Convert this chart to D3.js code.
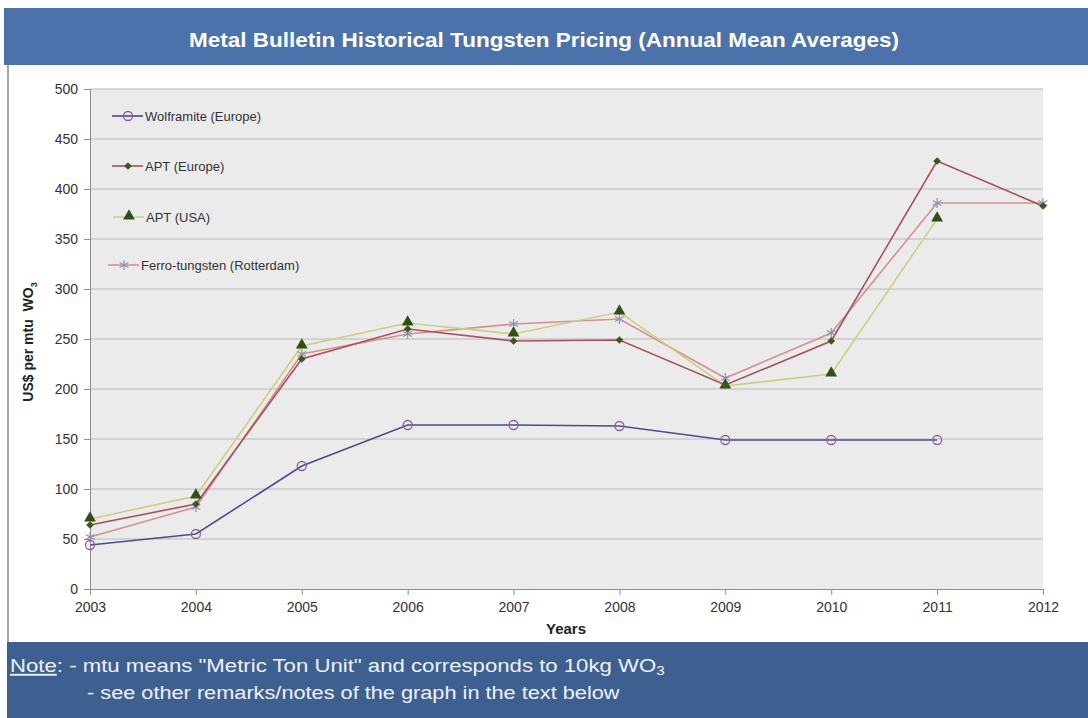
<!DOCTYPE html>
<html><head><meta charset="utf-8">
<script src="https://cdn.jsdelivr.net/npm/d3@7"></script>
<style>body{margin:0;background:#fff;}svg{display:block;font-family:"Liberation Sans",Arial,sans-serif;}</style>
</head><body>
<svg id="c" width="1088" height="718"></svg>
<script>
const years = [2003,2004,2005,2006,2007,2008,2009,2010,2011,2012];
const yTicks = [0,50,100,150,200,250,300,350,400,450,500];
const wolframite = [44,55,123,164,164,163,149,149,149,null];
const aptEurope = [64,85,230,260,248,249,204,248,428,383];
const aptUSA = [70,93,243,266,255,277,203,215,370,null];
const ferro = [52,82,235,255,265,270,211,256,386,386];
const seriesNames = ["Wolframite (Europe)","APT (Europe)","APT (USA)","Ferro-tungsten (Rotterdam)"];

const svg = d3.select("#c");
const x = d3.scaleLinear().domain([2003,2012]).range([90,1043]);
const y = d3.scaleLinear().domain([0,500]).range([589,89]);

// frame line on left
svg.append("line").attr("x1",8).attr("x2",8).attr("y1",60).attr("y2",645).attr("stroke","#8a8a8a").attr("stroke-width",1.5);
// title bar
svg.append("rect").attr("x",4).attr("y",8).attr("width",1084).attr("height",57).attr("fill","#4b72ab");
svg.append("text").attr("x",544).attr("y",47).attr("text-anchor","middle").attr("fill","#fff")
  .attr("font-weight","bold").attr("font-size",21).attr("textLength",710).attr("lengthAdjust","spacingAndGlyphs")
  .text("Metal Bulletin Historical Tungsten Pricing (Annual Mean Averages)");

// plot bg
svg.append("rect").attr("x",x(2003)).attr("y",y(500)).attr("width",x(2012)-x(2003)).attr("height",y(0)-y(500)).attr("fill","#ebebeb");
// grid
svg.append("g").selectAll("line").data(yTicks.filter(d=>d>0)).join("line")
  .attr("x1",x(2003)).attr("x2",x(2012)).attr("y1",d=>y(d)).attr("y2",d=>y(d)).attr("stroke","#b9b9b9").attr("stroke-width",1);

// axes
const yAxis = d3.axisLeft(y).tickValues(yTicks).tickSize(6).tickPadding(6);
const gy = svg.append("g").attr("transform",`translate(${x(2003)},0)`).call(yAxis);
const xAxis = d3.axisBottom(x).tickValues(years).tickFormat(d3.format("d")).tickSize(6).tickPadding(4);
const gx = svg.append("g").attr("transform",`translate(0,${y(0)})`).call(xAxis);
[gx,gy].forEach(g=>{
  g.select(".domain").attr("stroke","#8c8c8c");
  g.selectAll(".tick line").attr("stroke","#8c8c8c");
  g.selectAll(".tick text").attr("fill","#333").attr("font-size",14).attr("font-family","Liberation Sans, Arial, sans-serif");
});
gx.selectAll(".tick text").attr("dy","0.9em");

// axis titles
const yt = svg.append("text").attr("transform","translate(33,342) rotate(-90)").attr("text-anchor","middle")
  .attr("font-weight","bold").attr("font-size",14).attr("fill","#222");
yt.append("tspan").text("US$ per mtu\u00a0\u00a0WO");
yt.append("tspan").attr("font-size",9).attr("dy",4).text("3");
svg.append("text").attr("x",566).attr("y",634).attr("text-anchor","middle").attr("font-weight","bold").attr("font-size",15).attr("fill","#222").text("Years");

// series
const series = [
  {name:seriesNames[0], vals:wolframite, line:"#4f4a8c", sym:"circle"},
  {name:seriesNames[1], vals:aptEurope, line:"#a6525e", sym:"diamond"},
  {name:seriesNames[2], vals:aptUSA, line:"#cdcf80", sym:"triangle"},
  {name:seriesNames[3], vals:ferro, line:"#d69090", sym:"asterisk"}
];
const lineGen = d3.line().defined(d=>d.v!=null).x(d=>x(d.yr)).y(d=>y(d.v));
function marker(g, sym, cx, cy){
  if(sym==="circle"){
    g.append("circle").attr("cx",cx).attr("cy",cy).attr("r",4.5).attr("fill","none").attr("stroke","#8d5f98").attr("stroke-width",1.3);
  } else if(sym==="diamond"){
    g.append("path").attr("d",d3.symbol(d3.symbolSquare,30)()).attr("transform",`translate(${cx},${cy}) rotate(45)`).attr("fill","#3a5a1c");
  } else if(sym==="triangle"){
    g.append("path").attr("d",d3.symbol(d3.symbolTriangle,60)()).attr("transform",`translate(${cx},${cy-1})`).attr("fill","#2f4f16");
  } else {
    g.append("path").attr("d",d3.symbol(d3.symbolAsterisk,70)()).attr("transform",`translate(${cx},${cy})`).attr("fill","none").attr("stroke","#8f8fb6").attr("stroke-width",1.2);
  }
}
const order = [3,2,1,0];
order.forEach(i=>{
  const s = series[i];
  const pts = years.map((yr,j)=>({yr, v:s.vals[j]}));
  svg.append("path").datum(pts).attr("d",lineGen).attr("fill","none").attr("stroke",s.line).attr("stroke-width",1.6);
});
order.forEach(i=>{
  const s = series[i];
  const g = svg.append("g");
  years.forEach((yr,j)=>{ if(s.vals[j]!=null) marker(g, s.sym, x(yr), y(s.vals[j])); });
});

// legend
const legY = [116,166,217,265];
const legX0 = [112,112,113,108];
series.forEach((s,i)=>{
  const g = svg.append("g");
  g.append("line").attr("x1",legX0[i]).attr("x2",legX0[i]+31).attr("y1",legY[i]).attr("y2",legY[i]).attr("stroke",s.line).attr("stroke-width",1.6);
  marker(g, s.sym, legX0[i]+16, legY[i]);
  g.append("text").attr("x",legX0[i]+33).attr("y",legY[i]+4.5).attr("font-size",13).attr("fill","#333").text(s.name);
});

// note bar
svg.append("rect").attr("x",7).attr("y",642).attr("width",1081).attr("height",76).attr("fill","#3e6090");
function fitX(sel, x0, targetW){
  const w = sel.node().getBBox().width;
  sel.attr("transform",`translate(${x0},0) scale(${targetW/w},1) translate(${-x0},0)`);
}
const n1 = svg.append("text").attr("x",10).attr("y",672).attr("fill","#eef2f8").attr("font-size",19);
n1.append("tspan").attr("text-decoration","underline").text("Note");
n1.append("tspan").text(": - mtu means \"Metric Ton Unit\" and corresponds to 10kg WO");
n1.append("tspan").attr("font-size",13).attr("dy",3).text("3");
fitX(n1, 10, 655);
const n2 = svg.append("text").attr("x",87).attr("y",699).attr("fill","#eef2f8").attr("font-size",19)
  .text("- see other remarks/notes of the graph in the text below");
fitX(n2, 87, 533);
</script>
</body></html>
